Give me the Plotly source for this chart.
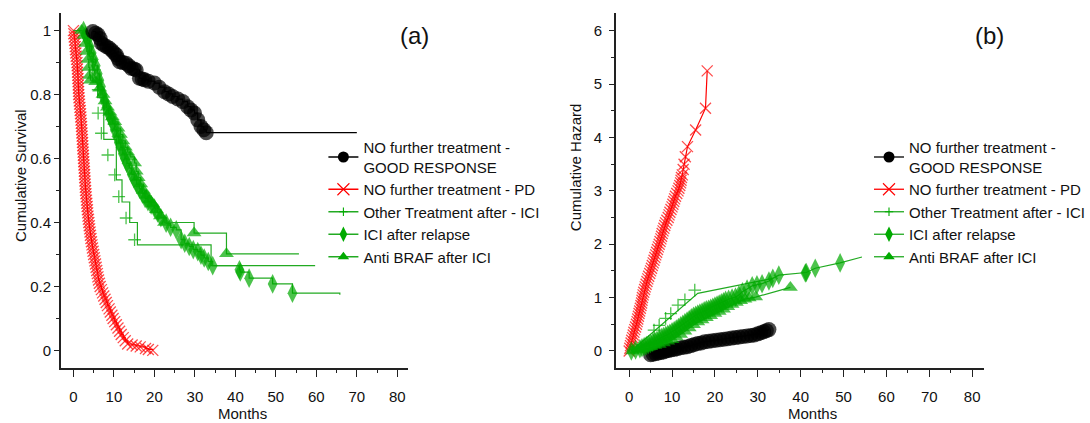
import plotly.graph_objects as go

# ---------------- Panel (a): cumulative survival (Kaplan-Meier) ----------------
good_t = [4.8, 5.5, 6.1, 6.6, 6.9, 7.5, 8.2, 8.9, 9.5, 10.1,
          10.6, 11.0, 11.4, 12.2, 13.0, 13.7, 14.3, 15.0, 15.5, 16.3,
          17.0, 17.6, 18.5, 20.0, 21.2, 22.5, 23.5, 24.5, 25.8, 27.0,
          28.2, 29.0, 29.9, 30.7, 31.5, 32.2, 32.8, 70]
good_s = [0.997, 0.992, 0.987, 0.975, 0.961, 0.955, 0.950, 0.945, 0.938, 0.930,
          0.924, 0.913, 0.903, 0.900, 0.898, 0.890, 0.882, 0.880, 0.877, 0.851,
          0.849, 0.846, 0.842, 0.836, 0.823, 0.809, 0.802, 0.794, 0.786, 0.778,
          0.762, 0.752, 0.742, 0.721, 0.700, 0.690, 0.681, 0.681]

pd_t = [0.00, 0.10, 0.20, 0.30, 0.38, 0.45, 0.52, 0.60, 0.68, 0.78,
        0.88, 0.93, 0.98, 1.03, 1.08, 1.12, 1.16, 1.20, 1.24, 1.27,
        1.30, 1.37, 1.45, 1.52, 1.60, 1.67, 1.75, 1.82, 1.88, 1.94,
        2.00, 2.05, 2.10, 2.15, 2.20, 2.25, 2.30, 2.35, 2.40, 2.45,
        2.50, 2.55, 2.60, 2.65, 2.70, 2.75, 2.80, 2.85, 2.90, 2.95,
        3.00, 3.08, 3.15, 3.22, 3.30, 3.38, 3.45, 3.52, 3.60, 3.70,
        3.80, 3.90, 4.00, 4.10, 4.20, 4.32, 4.45, 4.58, 4.70, 4.85,
        5.00, 5.15, 5.30, 5.45, 5.60, 5.75, 5.90, 6.05, 6.20, 6.40,
        6.60, 6.90, 7.20, 7.50, 7.80, 8.10, 8.40, 8.80, 9.10, 9.50,
        9.80, 10.20, 10.60, 11.00, 11.40, 11.80, 12.30, 12.80, 13.40,
        14.50, 15.50, 16.50, 17.80, 18.50, 19.60]
pd_s = [1.00, 0.99, 0.98, 0.97, 0.96, 0.95, 0.94, 0.93, 0.92, 0.91,
        0.90, 0.89, 0.88, 0.87, 0.86, 0.85, 0.84, 0.83, 0.82, 0.81,
        0.80, 0.79, 0.78, 0.77, 0.76, 0.75, 0.74, 0.73, 0.72, 0.71,
        0.70, 0.69, 0.68, 0.67, 0.66, 0.65, 0.64, 0.63, 0.62, 0.61,
        0.60, 0.59, 0.58, 0.57, 0.56, 0.55, 0.54, 0.53, 0.52, 0.51,
        0.50, 0.49, 0.48, 0.47, 0.46, 0.45, 0.44, 0.43, 0.42, 0.41,
        0.40, 0.39, 0.38, 0.37, 0.36, 0.35, 0.34, 0.33, 0.32, 0.31,
        0.30, 0.29, 0.28, 0.27, 0.26, 0.25, 0.24, 0.23, 0.22, 0.21,
        0.20, 0.19, 0.18, 0.17, 0.16, 0.15, 0.14, 0.13, 0.12, 0.11,
        0.10, 0.09, 0.08, 0.07, 0.06, 0.05, 0.04, 0.03, 0.02,
        0.017, 0.014, 0.011, 0.006, 0.003, 0.0]

other_step_t = [0, 3.0, 4.0, 4.8, 6.0, 7.5, 10.6, 12.0, 13.9, 15.8, 34.0, 59.7]
other_step_s = [1.0, 0.96, 0.92, 0.84, 0.79, 0.66, 0.533, 0.464, 0.40, 0.33, 0.265, 0.265]
other_mark_t = [5.2, 6.1, 6.1, 6.9, 8.5, 10.2, 11.2, 13.0, 15.1]
other_mark_s = [0.877, 0.815, 0.742, 0.679, 0.611, 0.549, 0.481, 0.414, 0.346]

ici_t = [2.5, 3.0, 3.5, 4.0, 4.5, 5.0, 5.5, 6.0, 6.4, 6.8,
         7.2, 7.7, 8.2, 8.7, 9.2, 9.7, 10.2, 10.7, 11.2, 11.7,
         12.2, 12.7, 13.2, 13.8, 14.4, 15.0, 15.6, 16.3, 17.0, 17.7,
         18.4, 19.2, 20.0, 20.8, 21.6, 22.9, 24.0, 25.4, 26.6, 27.5,
         28.6, 29.6, 30.7, 31.5, 32.3, 33.3, 34.4, 41.0, 41.2, 43.4,
         49.2, 54.1, 65.8]
ici_s = [1.0, 0.985, 0.97, 0.95, 0.93, 0.91, 0.89, 0.865, 0.845, 0.825,
         0.80, 0.78, 0.76, 0.74, 0.725, 0.71, 0.69, 0.67, 0.65, 0.635,
         0.615, 0.60, 0.585, 0.57, 0.55, 0.535, 0.52, 0.505, 0.49, 0.475,
         0.465, 0.455, 0.445, 0.43, 0.415, 0.398, 0.385, 0.377, 0.346, 0.335,
         0.325, 0.315, 0.309, 0.298, 0.289, 0.278, 0.265, 0.252, 0.245, 0.226,
         0.208, 0.179, 0.174]

braf_t = [2.0, 2.6, 3.0, 3.3, 3.6, 3.8, 4.0, 4.2, 5.5, 6.5,
          7.3, 7.8, 8.4, 9.0, 9.6, 10.2, 11.0, 11.6, 12.2, 12.8,
          13.4, 14.0, 15.1, 15.5, 16.0, 16.6, 17.3, 18.0, 18.8, 19.6,
          20.5, 21.5, 22.5, 29.8, 37.8, 55.7]
braf_s = [1.0, 0.985, 0.96, 0.935, 0.91, 0.885, 0.86, 0.845, 0.84, 0.82,
          0.80, 0.78, 0.76, 0.745, 0.73, 0.715, 0.695, 0.675, 0.655, 0.635,
          0.62, 0.605, 0.586, 0.56, 0.54, 0.52, 0.50, 0.485, 0.47, 0.458,
          0.44, 0.42, 0.40, 0.367, 0.302, 0.302]

# ---------------- Panel (b): cumulative hazard ----------------
good_h_t = [5.0, 5.6, 6.2, 6.8, 7.4, 8.0, 8.6, 9.2, 9.8, 10.5,
            11.2, 12.0, 12.8, 13.6, 14.4, 15.2, 16.0, 16.8, 17.6, 18.5,
            19.4, 20.3, 21.2, 22.1, 23.0, 23.9, 24.8, 25.7, 26.6, 27.5,
            28.4, 29.2, 30.0, 30.7, 31.4, 32.0, 32.6]
good_h = [-0.07, -0.06, -0.05, -0.04, -0.03, -0.02, 0.0, 0.01, 0.02, 0.03,
          0.04, 0.06, 0.07, 0.08, 0.10, 0.12, 0.14, 0.15, 0.17, 0.18,
          0.19, 0.20, 0.21, 0.22, 0.23, 0.24, 0.25, 0.26, 0.27, 0.28,
          0.29, 0.30, 0.32, 0.34, 0.36, 0.38, 0.40]

pd_h_t = [0.0, 0.15, 0.3, 0.45, 0.6, 0.8, 0.95, 1.1, 1.3, 1.5,
          1.7, 1.85, 2.0, 2.15, 2.3, 2.45, 2.6, 2.75, 2.9, 3.0,
          3.1, 3.25, 3.4, 3.6, 3.75, 3.95, 4.15, 4.35, 4.55, 4.8,
          5.0, 5.2, 5.4, 5.6, 5.8, 6.0, 6.2, 6.4, 6.6, 6.8,
          7.0, 7.2, 7.4, 7.55, 7.7, 7.9, 8.1, 8.3, 8.5, 8.8,
          9.1, 9.3, 9.5, 9.75, 10.0, 10.2, 10.4, 10.6, 10.8, 11.1,
          11.4, 11.6, 11.8, 12.0, 12.1, 12.2, 12.4,
          12.6, 12.8, 13.1, 13.6, 15.5, 17.8, 18.2]
pd_h = [0.00, 0.05, 0.10, 0.15, 0.20, 0.25, 0.30, 0.35, 0.40, 0.45,
        0.50, 0.55, 0.60, 0.65, 0.70, 0.75, 0.80, 0.85, 0.90, 0.95,
        1.00, 1.05, 1.10, 1.15, 1.20, 1.25, 1.30, 1.35, 1.40, 1.45,
        1.50, 1.55, 1.60, 1.65, 1.70, 1.75, 1.80, 1.85, 1.90, 1.95,
        2.00, 2.05, 2.10, 2.15, 2.20, 2.25, 2.30, 2.35, 2.40, 2.45,
        2.50, 2.55, 2.60, 2.65, 2.70, 2.75, 2.80, 2.85, 2.90, 2.95,
        3.00, 3.05, 3.10, 3.15, 3.20, 3.25, 3.30,
        3.40, 3.50, 3.64, 3.83, 4.14, 4.55, 5.25]

other_h_line_t = [0.5, 16.0, 33.5]
other_h_line = [0.0, 1.08, 1.36]
other_h_mark_t = [5.8, 7.0, 8.5, 9.7, 11.4, 13.0, 15.3]
other_h_mark = [0.39, 0.48, 0.61, 0.70, 0.86, 0.96, 1.14]

ici_h_t = [0.5, 1.5, 2.5, 3.0, 3.5, 4.0, 4.5, 5.0, 5.5, 6.0,
           6.5, 7.0, 7.5, 8.0, 8.5, 9.0, 9.5, 10.0, 10.5, 11.0,
           11.5, 12.0, 12.5, 13.0, 13.5, 14.0, 14.5, 15.0, 15.5, 16.0,
           16.5, 17.0, 17.5, 18.0, 18.5, 19.0, 19.5, 20.0, 20.5, 21.0,
           21.5, 22.0, 22.5, 23.2, 24.0, 24.8, 25.6, 26.4, 27.5, 28.7,
           29.8, 31.0, 32.6, 33.5, 34.9, 41.1, 41.3, 43.4, 49.2, 54.3]
ici_h = [0.0, 0.02, 0.04, 0.06, 0.08, 0.10, 0.12, 0.14, 0.16, 0.18,
         0.20, 0.22, 0.25, 0.27, 0.29, 0.31, 0.33, 0.36, 0.38, 0.41,
         0.44, 0.47, 0.50, 0.53, 0.56, 0.59, 0.62, 0.65, 0.67, 0.69,
         0.71, 0.73, 0.75, 0.77, 0.78, 0.80, 0.82, 0.84, 0.86, 0.88,
         0.90, 0.92, 0.95, 0.97, 0.99, 1.01, 1.05, 1.11, 1.16, 1.22,
         1.24, 1.26, 1.31, 1.36, 1.42, 1.46, 1.47, 1.55, 1.65, 1.76]

braf_h_t = [0.8, 2, 3, 4, 5, 6, 7, 8, 9, 10,
            11, 12, 13, 14, 15, 16, 17, 18, 19, 20,
            21, 22, 23, 24, 25, 26, 27, 28, 29.5, 37.6]
braf_h = [0.0, 0.02, 0.04, 0.06, 0.08, 0.10, 0.12, 0.15, 0.18, 0.21,
          0.26, 0.31, 0.37, 0.43, 0.49, 0.54, 0.58, 0.62, 0.66, 0.70,
          0.74, 0.78, 0.83, 0.87, 0.91, 0.94, 0.97, 0.99, 1.01, 1.19]

labels = ["NO further treatment -<br>GOOD RESPONSE",
          "NO further treatment - PD",
          "Other Treatment after - ICI",
          "ICI after relapse",
          "Anti BRAF after ICI"]

# ---------------- styling ----------------
BLACK = "#000000"
RED = "#FF0000"
GREEN = "#00AA00"
GREEN_LINE = "#22AA22"
FONT = "Liberation Sans, Arial, sans-serif"
W, H = 1090, 423


def sizes(n, s, blank_last=False):
    out = [s] * n
    if blank_last:
        out[-1] = 0
    return out


fig = go.Figure()


def series(x, y, xa, ya, symbol, size, color, lcolor, shape, blank_last=False,
           thin=False, mode="lines+markers", mlw=1.3):
    marker = dict(symbol=symbol, size=sizes(len(x), size, blank_last), color=color)
    if thin:
        marker["line"] = dict(width=mlw, color=color)
    else:
        marker["line"] = dict(width=0)
    fig.add_trace(go.Scatter(x=x, y=y, xaxis=xa, yaxis=ya, mode=mode,
                             line=dict(color=lcolor, width=1.2, shape=shape),
                             marker=marker, showlegend=False, hoverinfo="skip"))


# panel (a)
series(pd_t, pd_s, "x", "y", "x-thin", 11, RED, RED, "hv", thin=True)
series(other_step_t, other_step_s, "x", "y", "circle", 0, GREEN, GREEN_LINE, "hv", mode="lines")
series(other_mark_t, other_mark_s, "x", "y", "cross-thin", 9, GREEN, GREEN, "hv", thin=True, mode="markers")
series(ici_t, ici_s, "x", "y", "diamond-tall", 14, GREEN, GREEN_LINE, "hv", blank_last=True)
series(braf_t, braf_s, "x", "y", "triangle-up", 13, GREEN, GREEN_LINE, "hv", blank_last=True)
series(good_t, good_s, "x", "y", "circle", 15, BLACK, BLACK, "hv", blank_last=True)

# panel (b)
series(good_h_t, good_h, "x2", "y2", "circle", 15, BLACK, BLACK, "linear")
series(pd_h_t, pd_h, "x2", "y2", "x-thin", 11, RED, RED, "linear", thin=True)
series(other_h_line_t, other_h_line, "x2", "y2", "circle", 0, GREEN, GREEN_LINE, "linear", mode="lines")
series(other_h_mark_t, other_h_mark, "x2", "y2", "cross-thin", 9, GREEN, GREEN, "linear", thin=True, mode="markers")
series(ici_h_t, ici_h, "x2", "y2", "diamond-tall", 14, GREEN, GREEN_LINE, "linear", blank_last=True)
series(braf_h_t, braf_h, "x2", "y2", "triangle-up", 13, GREEN, GREEN_LINE, "linear")

# legend entries
leg_styles = [("circle", 11, BLACK, BLACK, False),
              ("x-thin", 12, RED, RED, True),
              ("cross-thin", 6, GREEN, GREEN_LINE, True),
              ("diamond-tall", 11, GREEN, GREEN_LINE, False),
              ("triangle-up", 10, GREEN, GREEN_LINE, False)]
for legname, xa, ya in [("legend", "x", "y"), ("legend2", "x2", "y2")]:
    for lab, (sym, sz, col, lcol, thin) in zip(labels, leg_styles):
        mk = dict(symbol=sym, size=sz, color=col,
                  line=dict(width=1.1 if thin else 0, color=col))
        fig.add_trace(go.Scatter(x=[None], y=[None], xaxis=xa, yaxis=ya,
                                 mode="lines+markers", name=lab, legend=legname,
                                 line=dict(color=lcol, width=1.3), marker=mk))

ydom = [1 - 368 / H, 1 - 12.7 / H]
axis_common = dict(showline=True, linecolor="#222222", linewidth=1.5, showgrid=False,
                   zeroline=False, ticks="outside", tickcolor="#222222",
                   tickfont=dict(size=15, color="#111111", family=FONT))
fig.update_layout(
    width=W, height=H, margin=dict(l=0, r=0, t=0, b=0),
    paper_bgcolor="white", plot_bgcolor="white",
    font=dict(family=FONT, color="#111111"),
    xaxis=dict(domain=[61 / W, 409 / W], range=[-3.1, 82.7], tick0=0, dtick=10,
               ticklen=7, tickwidth=1.2, ticklabelstandoff=7,
               minor=dict(ticks="outside", dtick=5, ticklen=3.5, tickwidth=1.2,
                          tickcolor="#222222"),
               anchor="y", **axis_common),
    yaxis=dict(domain=ydom, range=[-0.055, 1.056], tick0=0, dtick=0.2,
               ticklen=5, tickwidth=1.2,
               minor=dict(ticks="outside", dtick=0.1, ticklen=3, tickwidth=1.2,
                          tickcolor="#222222"),
               anchor="x", **axis_common),
    xaxis2=dict(domain=[617 / W, 986 / W], range=[-3.1, 82.8], tick0=0, dtick=10,
                ticklen=7, tickwidth=1.2, ticklabelstandoff=7,
                minor=dict(ticks="outside", dtick=5, ticklen=3.5, tickwidth=1.2,
                           tickcolor="#222222"),
                anchor="y2", **axis_common),
    yaxis2=dict(domain=ydom, range=[-0.32, 6.34], tick0=0, dtick=1,
                ticklen=5, tickwidth=1.2, ticklabelstandoff=4,
                minor=dict(ticks="outside", dtick=0.5, ticklen=3, tickwidth=1.2,
                           tickcolor="#222222"),
                anchor="x2", **axis_common),
    legend=dict(x=324 / W, y=1 - 131 / H, xanchor="left", yanchor="top",
                font=dict(size=15, color="#111111", family=FONT),
                bgcolor="rgba(0,0,0,0)", borderwidth=0, itemsizing="trace"),
    legend2=dict(x=870.7 / W, y=1 - 131 / H, xanchor="left", yanchor="top",
                 font=dict(size=15, color="#111111", family=FONT),
                 bgcolor="rgba(0,0,0,0)", borderwidth=0, itemsizing="trace"),
)

ann_font = dict(size=15, color="#111111", family=FONT)
annotations = [
    dict(text="Cumulative Survival", x=20 / W, y=1 - 175 / H, textangle=-90, font=ann_font,
         yanchor="middle"),
    dict(text="Cumulative Hazard", x=576.7 / W, y=1 - 167.5 / H, textangle=-90, font=ann_font,
         yanchor="middle"),
    dict(text="Months", x=242.5 / W, y=0, font=ann_font, yanchor="bottom", borderpad=0),
    dict(text="Months", x=813.5 / W, y=0, font=ann_font, yanchor="bottom", borderpad=0),
    dict(text="(a)", x=415 / W, y=1 - 35 / H, font=dict(size=24, color="#111111", family=FONT),
         yanchor="middle"),
    dict(text="(b)", x=991.7 / W, y=1 - 35 / H, font=dict(size=24, color="#111111", family=FONT),
         yanchor="middle"),
]
for a in annotations:
    a.update(xref="paper", yref="paper", showarrow=False, xanchor="center")
fig.update_layout(annotations=annotations)

fig.write_html("out.html")
